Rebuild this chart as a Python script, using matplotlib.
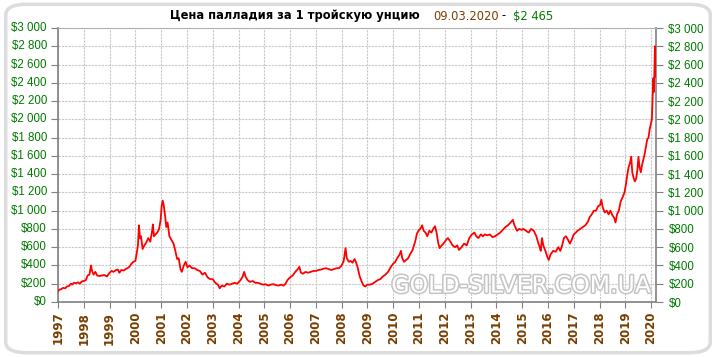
import matplotlib
matplotlib.use("Agg")
from matplotlib import pyplot as plt
from matplotlib.patches import FancyBboxPatch
import matplotlib.patheffects as pe

# palladium price, USD per troy ounce
years = [
    1997.00, 1997.05, 1997.12, 1997.20, 1997.28, 1997.35, 1997.42, 1997.50, 1997.55, 1997.62,
    1997.70, 1997.78, 1997.85, 1997.92, 1998.00, 1998.08, 1998.15, 1998.22, 1998.28, 1998.32,
    1998.38, 1998.45, 1998.52, 1998.60, 1998.70, 1998.80, 1998.90, 1999.00, 1999.08, 1999.15,
    1999.25, 1999.32, 1999.38, 1999.45, 1999.55, 1999.62, 1999.70, 1999.78, 1999.85, 1999.92,
    2000.00, 2000.05, 2000.10, 2000.14, 2000.18, 2000.22, 2000.28, 2000.35, 2000.42, 2000.50,
    2000.58, 2000.65, 2000.68, 2000.72, 2000.78, 2000.85, 2000.92, 2000.98, 2001.02, 2001.06,
    2001.10, 2001.15, 2001.20, 2001.25, 2001.32, 2001.40, 2001.48, 2001.55, 2001.62, 2001.68,
    2001.75, 2001.80, 2001.88, 2001.95, 2002.02, 2002.10, 2002.20, 2002.30, 2002.40, 2002.50,
    2002.60, 2002.70, 2002.80, 2002.90, 2003.00, 2003.10, 2003.20, 2003.27, 2003.35, 2003.45,
    2003.55, 2003.65, 2003.75, 2003.85, 2003.95, 2004.05, 2004.15, 2004.22, 2004.27, 2004.35,
    2004.45, 2004.55, 2004.65, 2004.75, 2004.85, 2004.95, 2005.05, 2005.15, 2005.25, 2005.35,
    2005.45, 2005.55, 2005.65, 2005.75, 2005.82, 2005.90, 2006.00, 2006.10, 2006.20, 2006.30,
    2006.36, 2006.42, 2006.50, 2006.60, 2006.70, 2006.80, 2006.90, 2007.00, 2007.10, 2007.20,
    2007.30, 2007.40, 2007.50, 2007.60, 2007.70, 2007.80, 2007.90, 2008.00, 2008.08, 2008.15,
    2008.20, 2008.28, 2008.35, 2008.42, 2008.50, 2008.55, 2008.62, 2008.70, 2008.78, 2008.85,
    2008.92, 2009.00, 2009.10, 2009.20, 2009.30, 2009.40, 2009.50, 2009.60, 2009.70, 2009.80,
    2009.90, 2010.00, 2010.08, 2010.15, 2010.25, 2010.30, 2010.35, 2010.42, 2010.50, 2010.58,
    2010.65, 2010.75, 2010.85, 2010.92, 2011.00, 2011.05, 2011.12, 2011.18, 2011.25, 2011.32,
    2011.40, 2011.48, 2011.55, 2011.62, 2011.68, 2011.75, 2011.80, 2011.88, 2011.95, 2012.05,
    2012.12, 2012.22, 2012.30, 2012.40, 2012.48, 2012.55, 2012.65, 2012.75, 2012.85, 2012.95,
    2013.05, 2013.15, 2013.22, 2013.30, 2013.40, 2013.48, 2013.55, 2013.65, 2013.75, 2013.85,
    2013.95, 2014.05, 2014.15, 2014.25, 2014.35, 2014.45, 2014.55, 2014.64, 2014.70, 2014.80,
    2014.88, 2014.98, 2015.05, 2015.15, 2015.25, 2015.35, 2015.45, 2015.55, 2015.62, 2015.68,
    2015.72, 2015.77, 2015.82, 2015.90, 2015.97, 2016.03, 2016.10, 2016.20, 2016.30, 2016.40,
    2016.48, 2016.55, 2016.62, 2016.70, 2016.78, 2016.85, 2016.92, 2017.00, 2017.08, 2017.15,
    2017.25, 2017.35, 2017.45, 2017.55, 2017.62, 2017.70, 2017.78, 2017.86, 2017.95, 2018.02,
    2018.07, 2018.12, 2018.20, 2018.28, 2018.35, 2018.42, 2018.50, 2018.57, 2018.62, 2018.68,
    2018.75, 2018.82, 2018.90, 2018.97, 2019.03, 2019.08, 2019.13, 2019.18, 2019.23, 2019.27,
    2019.32, 2019.37, 2019.42, 2019.47, 2019.51, 2019.55, 2019.60, 2019.65, 2019.70, 2019.75,
    2019.80, 2019.85, 2019.90, 2019.95, 2020.00, 2020.03, 2020.06, 2020.09, 2020.11, 2020.13,
    2020.15, 2020.17, 2020.19,
]
prices = [
    120, 135, 140, 155, 150, 170, 175, 200, 190, 210,
    205, 215, 200, 225, 230, 240, 290, 300, 400, 340,
    300, 330, 290, 285, 290, 295, 280, 320, 340, 330,
    350, 355, 320, 350, 345, 360, 370, 390, 420, 440,
    450, 530, 620, 840, 700, 720, 580, 620, 650, 700,
    660, 780, 850, 720, 740, 760, 800, 900, 1050, 1110,
    1060, 950, 820, 870, 720, 680, 640, 560, 470, 480,
    360, 330, 400, 440, 380, 400, 370, 370, 350, 340,
    300, 320, 270, 250, 250, 210, 190, 150, 180, 170,
    200, 190, 200, 210, 200, 230, 270, 330, 280, 240,
    220, 230, 210, 210, 200, 190, 195, 180, 190, 195,
    185, 180, 190, 180, 200, 240, 270, 290, 330, 360,
    385, 320, 310, 330, 320, 330, 340, 340, 350, 355,
    365, 370, 360, 350, 360, 370, 370, 400, 450, 590,
    480, 440, 450, 430, 470, 440, 380, 280, 220, 180,
    170, 190, 190, 200, 220, 240, 250, 280, 300, 330,
    380, 420, 440, 480, 520, 560, 480, 440, 460, 480,
    520, 570, 660, 750, 790, 800, 840, 780, 760, 720,
    780, 760, 800, 830, 760, 640, 590, 620, 640, 680,
    700, 660, 620, 600, 620, 570, 600, 640, 620, 700,
    740, 760, 720, 700, 740, 720, 740, 730, 740, 710,
    720, 740, 760, 790, 820, 840, 870, 900, 840, 780,
    800, 790, 800, 780, 760, 800, 780, 720, 650, 600,
    560, 700, 620, 560, 500, 460, 520, 560, 550, 600,
    560, 620, 700, 720, 680, 640, 680, 740, 760, 780,
    800, 820, 840, 880, 930, 960, 1000, 1000, 1050, 1060,
    1120, 1040, 980, 1000, 960, 1000, 950, 920, 870, 960,
    1000, 1100, 1150, 1200, 1300, 1400, 1480, 1520, 1590, 1420,
    1360, 1320, 1350, 1450, 1590, 1480, 1420, 1500, 1560, 1620,
    1700, 1780, 1800, 1900, 1960, 2000, 2250, 2450, 2300, 2550,
    2800, 2600, 2465,
]

year_ticks = list(range(1997, 2021))
price_ticks = list(range(0, 3001, 200))
price_labels = ["$" + format(p, ",").replace(",", " ") for p in price_ticks]

green = "#007a00"
brown = "#7a3d00"

fig = plt.figure(figsize=(7.16, 3.57), dpi=100)
fig.patch.set_facecolor("white")

# rounded frame round the chart
frame = FancyBboxPatch((0.008, 0.012), 0.984, 0.976, boxstyle="round,pad=0,rounding_size=0.03",
                       transform=fig.transFigure, facecolor="none", edgecolor="#dcdcdc",
                       linewidth=2.5, zorder=-1)
fig.patches.append(frame)

ax = fig.add_axes([58 / 716, 1 - 302 / 357, (656 - 58) / 716, (302 - 28) / 357])
ax.set_facecolor("none")
ax.plot(years, prices, color="#ff0000", linewidth=1.3, zorder=3)

ax.set_xlim(1997, 2020.19)
ax.set_ylim(0, 3000)
ax.set_xticks(year_ticks)
ax.set_xticklabels([str(y) for y in year_ticks], rotation=90, color=brown,
                   fontsize=8.5, fontweight="bold")
ax.set_yticks(price_ticks)
ax.set_yticklabels(price_labels, color=green, fontsize=8.3, family="Liberation Sans")
ax.tick_params(axis="y", which="both", left=True, right=True, labelleft=False,
               labelright=True, direction="out", length=5, color="#808080", pad=4)
ax.tick_params(axis="x", direction="out", length=4, color="#808080", pad=3)

# left labels drawn with their own padding
for p, lab in zip(price_ticks, price_labels):
    ax.annotate(lab, xy=(0, p), xycoords=("axes fraction", "data"), xytext=(-8, 0),
                textcoords="offset points", ha="right", va="center", color=green,
                fontsize=8.3, family="Liberation Sans", annotation_clip=False)

ax.grid(True, color="#c8c8c8", linestyle=(0, (2, 1)), linewidth=0.8)
for side in ["left", "right", "bottom"]:
    ax.spines[side].set_color("#808080")
    ax.spines[side].set_linewidth(1.2)
ax.spines["top"].set_color("#b0b0b0")
ax.spines["top"].set_linewidth(0.8)

# watermark
ax.text(0.775, 0.06, "GOLD-SILVER.COM.UA", transform=ax.transAxes, ha="center", va="center",
        fontsize=17, color="white", zorder=2,
        path_effects=[pe.withStroke(linewidth=2.2, foreground="#c4c4c4")])

# title made of several pieces
fig.text(170 / 716, 1 - 16 / 357, "Цена палладия за 1 тройскую унцию", ha="left", va="center",
         fontsize=8.3, fontweight="bold", color="black")
fig.text(433 / 716, 1 - 16 / 357, "09.03.2020", ha="left", va="center", fontsize=8.3, color=brown)
fig.text(502 / 716, 1 - 16 / 357, "-", ha="left", va="center", fontsize=8.3, color="black")
fig.text(513 / 716, 1 - 16 / 357, "$2 465", ha="left", va="center", fontsize=8.3, color=green)

fig.savefig("out.png", dpi=100)
